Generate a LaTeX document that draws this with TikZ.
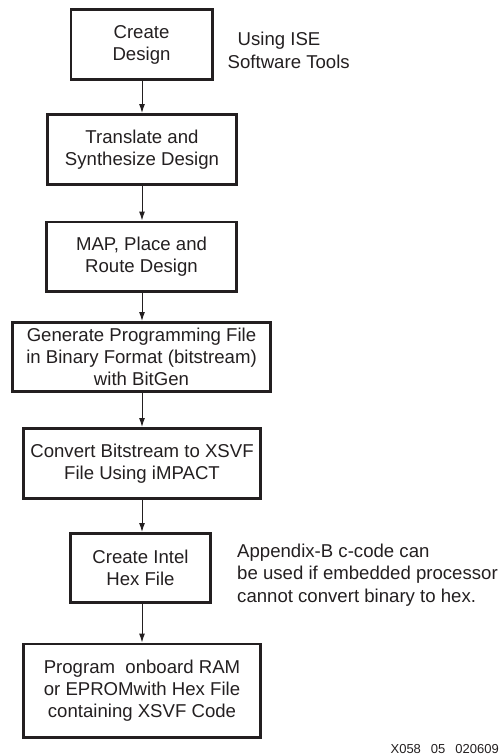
\documentclass[tikz,border=0pt]{standalone}
\usepackage{fontspec}
\setmainfont{Liberation Sans}
\usetikzlibrary{arrows.meta}
\definecolor{ink}{HTML}{231F20}
\begin{document}
\begin{tikzpicture}[x=1pt,y=-1pt,
  stepbox/.style={draw=ink,line width=2.6pt,align=center,inner sep=0pt,
    font=\fontsize{18.6}{22}\selectfont,text=ink},
  flow/.style={draw=ink,line width=1pt,-{Latex[length=9pt,width=6pt]}},
  note/.style={anchor=base west,inner sep=0pt,font=\fontsize{18.6}{22}\selectfont,text=ink}]
\useasboundingbox (0,0) rectangle (501,755);
\node[stepbox,minimum width=141.4pt,minimum height=70.4pt] (b1) at (141.5,44.5) {Create\\Design};
\node[stepbox,minimum width=189.4pt,minimum height=70.4pt] (b2) at (142,149.5) {Translate and\\Synthesize Design};
\node[stepbox,minimum width=190.4pt,minimum height=69.4pt] (b3) at (141.5,256.5) {MAP, Place and\\Route Design};
\node[stepbox,minimum width=258.4pt,minimum height=69.4pt] (b4) at (141.5,357) {Generate Programming File\\in Binary Format (bitstream)\\with BitGen};
\node[stepbox,minimum width=237.4pt,minimum height=70.4pt] (b5) at (142,463.5) {Convert Bitstream to XSVF\\File Using iMPACT};
\node[stepbox,minimum width=140.4pt,minimum height=69.4pt] (b6) at (140.5,568) {Create Intel\\Hex File};
\node[stepbox,minimum width=237.4pt,minimum height=93.4pt] (b7) at (142,690.5) {Program\ \ onboard RAM\\or EPROMwith Hex File\\containing XSVF Code};
\foreach \a/\b in {b1/b2,b2/b3,b3/b4,b4/b5,b5/b6,b6/b7}
  \draw[flow] (\a.south -| 142,0) -- (\b.north -| 142,0);
\node[note] (u1) at (237.5,45.5) {Using ISE};
\node[note] (u2) at (227.5,68.3) {Software Tools};
\node[note] (a1) at (237,557) {Appendix-B c-code can};
\node[note] (a2) at (237,579.5) {be used if embedded processor};
\node[note] (a3) at (237,602) {cannot convert binary to hex.};
\node[anchor=base east,inner sep=0pt,font=\fontsize{13}{15}\selectfont,text=ink] (fid) at (499,753) {X058\hspace{10pt}05\hspace{10pt}020609};
\end{tikzpicture}
\end{document}
